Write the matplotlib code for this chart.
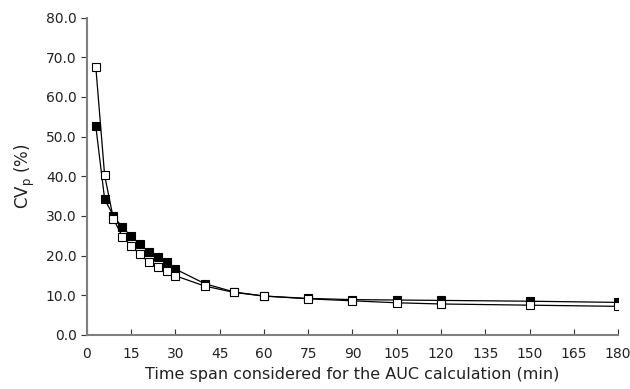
import matplotlib
matplotlib.use("Agg")
import matplotlib.pyplot as plt

# time span (min)
minutes = [3, 6, 9, 12, 15, 18, 21, 24, 27, 30, 40, 50, 60, 75, 90, 105, 120, 150, 180]
cv_filled = [52.6, 34.2, 30.0, 27.1, 24.9, 22.8, 20.9, 19.6, 18.4, 16.6,
             12.9, 10.8, 9.8, 9.2, 8.9, 8.8, 8.7, 8.5, 8.2]
cv_open = [67.6, 40.2, 29.2, 24.8, 22.5, 20.3, 18.3, 17.1, 16.0, 14.9,
           12.3, 10.7, 9.8, 9.1, 8.6, 8.1, 7.8, 7.5, 7.2]

x_ticks = list(range(0, 181, 15))
y_ticks = [0, 10, 20, 30, 40, 50, 60, 70, 80]

txt = "#222222"
fig = plt.figure(figsize=(6.3, 3.89), dpi=100)
ax = fig.add_axes([0.138, 0.139, 0.843, 0.816])

ax.plot(minutes, cv_filled, color="black", lw=0.9, marker="s", ms=5.5,
        mfc="black", mec="black", mew=0.8, zorder=3)
ax.plot(minutes, cv_open, color="black", lw=0.9, marker="s", ms=5.5,
        mfc="white", mec="black", mew=0.8, zorder=4)

ax.set_xlim(0, 180)
ax.set_ylim(0, 80)
ax.set_xticks(x_ticks)
ax.set_yticks(y_ticks)
ax.set_yticklabels([f"{v:.1f}" for v in y_ticks])

ax.spines['top'].set_visible(False)
ax.spines['right'].set_visible(False)
ax.spines['left'].set_color("#808080")
ax.spines['bottom'].set_color("#808080")
ax.spines['left'].set_linewidth(1.5)
ax.spines['bottom'].set_linewidth(1.5)
ax.tick_params(axis='x', direction='in', length=4, color="#333333",
               labelsize=10, pad=9, labelcolor=txt)
ax.tick_params(axis='y', direction='out', length=4, color="#333333",
               labelsize=10, labelcolor=txt)

ax.set_xlabel("Time span considered for the AUC calculation (min)",
              fontsize=11.5, labelpad=4, color=txt)
ax.set_ylabel(r"CV$_\mathregular{p}$ (%)", fontsize=12, labelpad=6, color=txt)

fig.savefig("out.png", dpi=100)
